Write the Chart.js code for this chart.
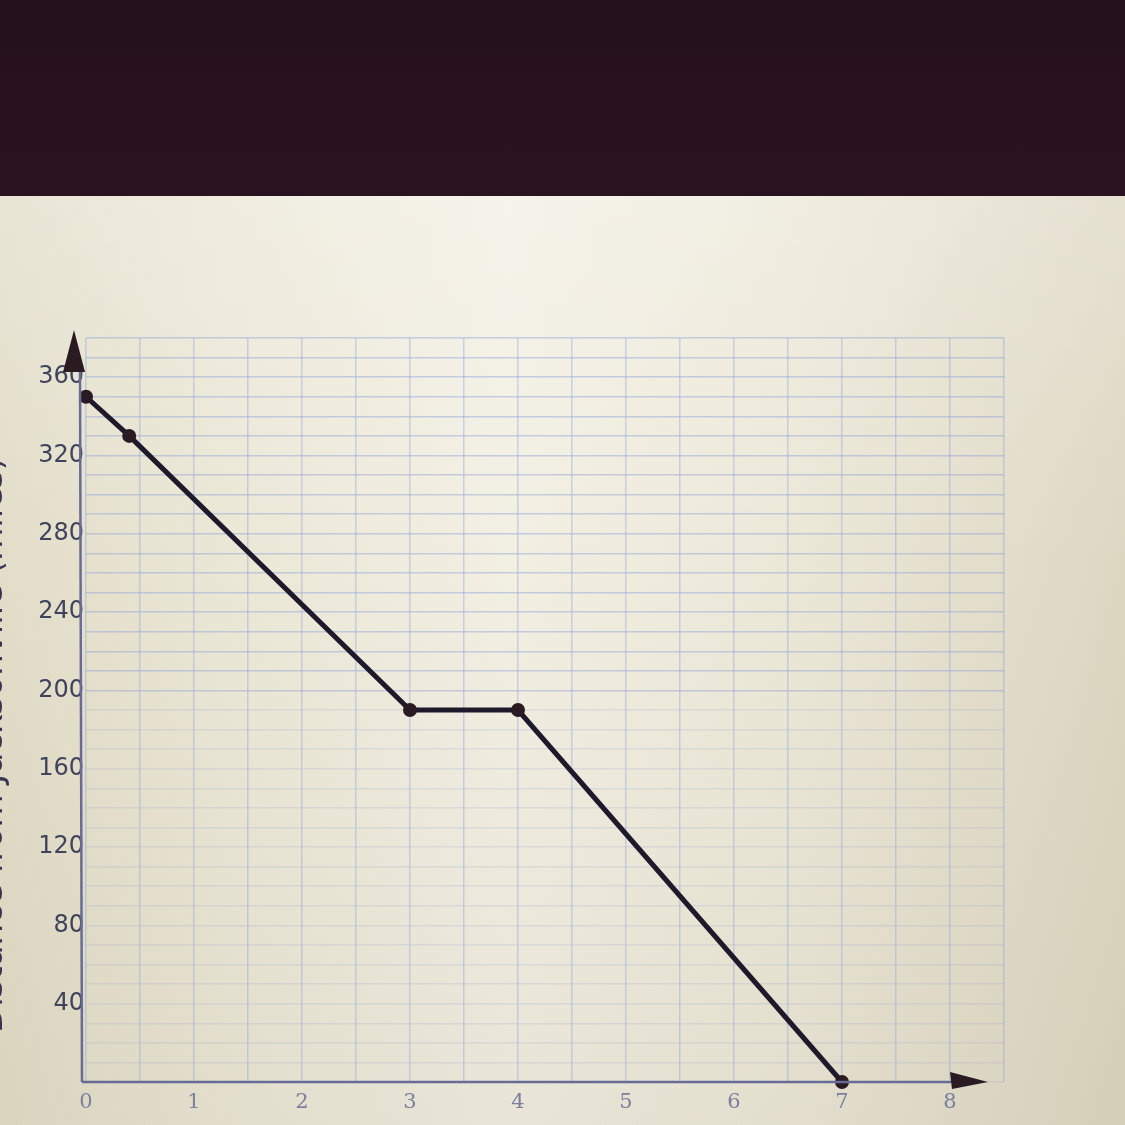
<!DOCTYPE html>
<html>
<head>
<meta charset="utf-8">
<script src="https://cdn.jsdelivr.net/npm/chart.js@4"></script>
<style>
html,body{margin:0;padding:0;width:1125px;height:1125px;overflow:hidden;}
body{background:linear-gradient(180deg,#24101c 0%,#3a1b2a 60%,#2b1220 100%);position:relative;}
#page{position:absolute;left:0;top:196px;width:1125px;height:929px;
  background:linear-gradient(90deg,#e2ddc8 0%,#ebe7d6 20%,#f2efe3 45%,#ece8d8 70%,#ddd7c2 100%);}
#glare{position:absolute;left:0;top:196px;width:1125px;height:929px;
  background:linear-gradient(180deg,rgba(255,255,255,0.25) 0%,rgba(255,255,255,0) 40%,rgba(120,110,80,0.08) 100%);}
canvas{position:absolute;left:0;top:0;}
</style>
</head>
<body>
<div id="page"></div>
<div id="glare"></div>
<canvas id="c" width="1125" height="1125"></canvas>
<script>
// hours from start vs distance (miles)
const hours=[0,0.4,3,4,7];
const distance=[350,330,190,190,0];
const yTitle='Distance from Jacksonville (miles)';

const axisArrows={
  id:'axisArrows',
  afterDraw(chart){
    const {ctx}=chart;
    const x0=chart.scales.x.getPixelForValue(0)-4;
    const y0=chart.scales.y.getPixelForValue(0);
    ctx.save();
    ctx.strokeStyle='#676c96';ctx.lineWidth=2.5;
    ctx.beginPath();ctx.moveTo(x0,y0);ctx.lineTo(x0-2,368);ctx.stroke();
    ctx.beginPath();ctx.moveTo(x0,y0);ctx.lineTo(955,y0);ctx.stroke();
    ctx.fillStyle='#2a1a22';
    // y arrow
    ctx.beginPath();ctx.moveTo(x0-8,330);ctx.lineTo(x0-19,372);ctx.lineTo(x0+3,372);ctx.closePath();ctx.fill();
    // x arrow
    ctx.beginPath();ctx.moveTo(988,y0);ctx.lineTo(950,y0-10);ctx.lineTo(952,y0+7);ctx.closePath();ctx.fill();
    // y title, cut at the left edge
    ctx.translate(-8,745);ctx.rotate(-Math.PI/2);
    ctx.font='34px "DejaVu Sans"';ctx.fillStyle='#3a3550';ctx.textAlign='center';ctx.textBaseline='alphabetic';
    ctx.fillText(yTitle,0,10);
    ctx.restore();
  }
};

new Chart(document.getElementById('c'),{
  type:'line',
  data:{datasets:[{
    data:hours.map((h,i)=>({x:h,y:distance[i]})),
    borderColor:'#1e1a2c',borderWidth:5,
    pointBackgroundColor:'#2a1a22',pointBorderColor:'#2a1a22',pointRadius:4.5,
    tension:0,clip:false
  }]},
  plugins:[axisArrows],
  options:{
    responsive:false,animation:false,
    layout:{padding:{top:338,right:121,left:0,bottom:0}},
    plugins:{legend:{display:false},tooltip:{enabled:false}},
    scales:{
      x:{type:'linear',min:0,max:8.5,
        afterFit:s=>{s.height=43;},
        border:{display:false},
        grid:{color:'rgba(140,160,215,0.4)',lineWidth:1.5,drawTicks:false},
        ticks:{stepSize:0.5,padding:8,autoSkip:false,maxRotation:0,color:'#7c809c',
          font:{family:'"DejaVu Serif"',size:21},
          callback:v=>Number.isInteger(v)?String(v):''}},
      y:{type:'linear',min:0,max:380,
        afterFit:s=>{s.width=86;},
        border:{display:false},
        grid:{color:c=>c.tick&&c.tick.value>=200?'rgba(140,160,215,0.45)':'rgba(150,165,215,0.22)',lineWidth:1.5,drawTicks:false},
        ticks:{stepSize:10,padding:2,autoSkip:false,color:'#40435c',
          font:{family:'"DejaVu Sans"',size:24},
          callback:v=>(v>0&&v%40===0)?String(v):''}}
    }
  }
});
</script>
</body>
</html>
